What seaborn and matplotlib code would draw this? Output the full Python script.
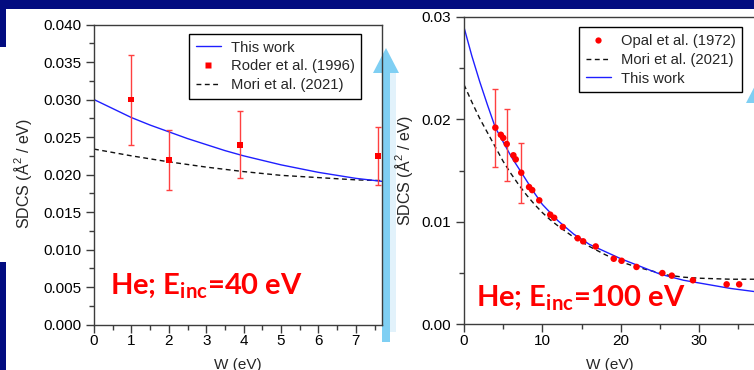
import matplotlib
matplotlib.use("Agg")
import matplotlib.pyplot as plt
from matplotlib.patches import Polygon
from matplotlib.lines import Line2D
from matplotlib.ticker import MultipleLocator, FormatStrFormatter
import numpy as np
import seaborn as sns

# ---------------- He, E_inc = 40 eV ----------------
w40_calc = [0, 0.5, 1, 1.5, 2, 2.5, 3, 3.5, 4, 4.5, 5, 5.5, 6, 6.5, 7, 7.7]
sdcs40_calc = [0.0300, 0.0288, 0.0276, 0.0266, 0.0257, 0.0248, 0.0240, 0.0232,
               0.0225, 0.0219, 0.0213, 0.0208, 0.0203, 0.0199, 0.0195, 0.0191]

w40_mori = [0, 1, 2, 3, 4, 5, 6, 7, 7.7]
sdcs40_mori = [0.0234, 0.0225, 0.0217, 0.0210, 0.0204, 0.0199, 0.0196, 0.0193, 0.0192]

w40_roder = [1.0, 2.0, 3.9, 7.6]
sdcs40_roder = [0.0300, 0.0220, 0.0240, 0.0225]
roder_low = [0.0240, 0.0180, 0.0195, 0.0186]
roder_high = [0.0360, 0.0260, 0.0285, 0.0263]

# ---------------- He, E_inc = 100 eV ----------------
w100_calc = [0, 1, 2, 3, 4, 5, 6, 7, 8, 9, 10, 11, 12, 14, 16, 18, 20, 22,
             25, 28, 31, 34, 37, 40]
sdcs100_calc = [0.0290, 0.0262, 0.0237, 0.0214, 0.0192, 0.0178, 0.0164, 0.0152,
                0.0140, 0.0128, 0.0117, 0.0109, 0.0101, 0.0088, 0.0078, 0.0071,
                0.0064, 0.0058, 0.0049, 0.0043, 0.0039, 0.0035, 0.0032, 0.0030]

w100_mori = [0, 1, 2, 3, 4, 5, 6, 7, 8, 9, 10, 11, 12, 14, 16, 18, 20, 22,
             24, 26, 28, 30, 34, 40]
sdcs100_mori = [0.0234, 0.0217, 0.0201, 0.0187, 0.0173, 0.0159, 0.0147, 0.0136,
                0.0126, 0.0117, 0.0109, 0.0102, 0.0096, 0.0085, 0.0076, 0.0068,
                0.0061, 0.0056, 0.0052, 0.0048, 0.0046, 0.0045, 0.0044, 0.0044]

w100_opal = [4.0, 4.7, 5.0, 5.45, 6.3, 6.6, 7.3, 8.3, 8.7, 9.6, 11.0, 11.5,
             12.6, 14.5, 15.2, 16.8, 19.1, 20.1, 22.0, 25.3, 26.5, 29.2, 33.5, 35.1]
sdcs100_opal = [0.0192, 0.0185, 0.0182, 0.0176, 0.0165, 0.0161, 0.0148, 0.0134,
                0.0131, 0.0121, 0.0107, 0.0104, 0.0095, 0.0084, 0.0081, 0.0076,
                0.0064, 0.0062, 0.0056, 0.0050, 0.00475, 0.0043, 0.0039, 0.0039]
w100_opal_err = [4.0, 5.45, 7.3]
sdcs100_opal_err = [0.0192, 0.0176, 0.0148]
opal_low = [0.0154, 0.0140, 0.0118]
opal_high = [0.0230, 0.0210, 0.0177]

NAVY = "#020c80"
BLUE = "#1f1fff"
RED = "#ff0000"
ERR_RED = "#ff4040"
ARROW = "#7fcff3"
SPINE = "#3c3c3c"

sns.set_theme(style="ticks")
plt.rcParams["font.family"] = ["Liberation Sans", "DejaVu Sans"]
plt.rcParams["mathtext.default"] = "regular"

W, H = 754, 370
fig = plt.figure(figsize=(W / 100, H / 100), dpi=100)
fig.patch.set_facecolor(NAVY)


def fx(px):
    return px / W


def fy(py):
    return 1 - py / H


def poly(points, color, z):
    pts = [(fx(x), fy(y)) for x, y in points]
    fig.patches.append(Polygon(pts, closed=True, transform=fig.transFigure,
                               facecolor=color, edgecolor="none", zorder=z))


# white slide canvas
poly([(6, 9), (754, 9), (754, 370), (6, 370)], "white", -3)
poly([(0, 47), (6, 47), (6, 262), (0, 262)], "white", -3)
poly([(390, 73), (396, 73), (396, 332), (390, 332)], "#e2f2fb", -2)

# highlight arrows
poly([(382, 342), (390, 342), (390, 73), (399, 73), (386, 48), (373, 73), (382, 73)], ARROW, -1)
poly([(746, 103), (772, 103), (759, 78)], ARROW, -1)

TICK_FS = 11
LABEL_FS = 11.5


def style_axes(ax):
    ax.set_facecolor("none")
    for s in ax.spines.values():
        s.set_color(SPINE)
        s.set_linewidth(1.0)
    ax.tick_params(which="major", direction="out", length=6, width=1,
                   color=SPINE, labelsize=TICK_FS, labelcolor="black")
    ax.tick_params(which="minor", direction="out", length=3.5, width=1, color=SPINE)
    ax.tick_params(axis="x", which="major", pad=1)
    ax.tick_params(axis="y", which="major", pad=3)


dash = (0, (3.5, 2.5))

# ---------- left panel ----------
ax1 = fig.add_axes([fx(94), fy(324.7), fx(382) - fx(94), fy(24.5) - fy(324.7)])
sns.lineplot(x=w40_mori, y=sdcs40_mori, ax=ax1, color="#111111", lw=1.0,
             linestyle=dash, estimator=None, sort=False)
sns.lineplot(x=w40_calc, y=sdcs40_calc, ax=ax1, color=BLUE, lw=1.0,
             estimator=None, sort=False)
e40 = np.array(sdcs40_roder)
ax1.errorbar(w40_roder, e40,
             yerr=[e40 - np.array(roder_low), np.array(roder_high) - e40],
             fmt="none", ecolor=ERR_RED, elinewidth=1, capsize=2.2, capthick=1)
sns.scatterplot(x=w40_roder, y=sdcs40_roder, ax=ax1, marker="s", s=18,
                color=RED, edgecolor="none", zorder=5)
ax1.set_xlim(0, 7.7)
ax1.set_ylim(0, 0.040)
ax1.xaxis.set_major_locator(MultipleLocator(1))
ax1.xaxis.set_minor_locator(MultipleLocator(0.5))
ax1.yaxis.set_major_locator(MultipleLocator(0.005))
ax1.yaxis.set_minor_locator(MultipleLocator(0.0025))
ax1.yaxis.set_major_formatter(FormatStrFormatter("%.3f"))
ax1.xaxis.set_major_formatter(FormatStrFormatter("%d"))
style_axes(ax1)
ax1.set_xlabel("W (eV)", fontsize=TICK_FS)
ax1.set_ylabel("SDCS (Å$^2$ / eV)", fontsize=LABEL_FS)
ax1.xaxis.set_label_coords(0.5, -0.111)
ax1.yaxis.set_label_coords((34 - 94) / 288, 0.505)

h_calc = Line2D([], [], color=BLUE, lw=1.0)
h_mori = Line2D([], [], color="#111111", lw=1.0, linestyle=dash)
h_roder = Line2D([], [], ls="none", marker="s", markersize=4, color=RED, mec="none")
h_opal = Line2D([], [], ls="none", marker="o", markersize=4.5, color=RED, mec="none")

leg_kw = dict(loc="upper left", bbox_transform=fig.transFigure, borderaxespad=0,
              fancybox=False, framealpha=1, edgecolor="black", fontsize=10.6,
              borderpad=0.45, handlelength=1.7, handletextpad=0.7, labelspacing=0.33)
leg1 = ax1.legend([h_calc, h_roder, h_mori],
                  ["This work", "Roder et al. (1996)", "Mori et al. (2021)"],
                  bbox_to_anchor=(fx(189), fy(34)), **leg_kw)
leg1.get_frame().set_linewidth(1.0)

# ---------- right panel ----------
XMAX2 = 38
PX_PER_EV = 7.84
ax2 = fig.add_axes([fx(464), fy(324.3), fx(464 + XMAX2 * PX_PER_EV) - fx(464),
                    fy(17) - fy(324.3)])
sns.lineplot(x=w100_mori, y=sdcs100_mori, ax=ax2, color="#111111", lw=1.0,
             linestyle=dash, estimator=None, sort=False)
sns.lineplot(x=w100_calc, y=sdcs100_calc, ax=ax2, color=BLUE, lw=1.0,
             estimator=None, sort=False)
e100 = np.array(sdcs100_opal_err)
ax2.errorbar(w100_opal_err, e100,
             yerr=[e100 - np.array(opal_low), np.array(opal_high) - e100],
             fmt="none", ecolor=ERR_RED, elinewidth=1, capsize=2.2, capthick=1)
sns.scatterplot(x=w100_opal, y=sdcs100_opal, ax=ax2, marker="o", s=22,
                color=RED, edgecolor="none", zorder=5)
ax2.set_xlim(0, XMAX2)
ax2.set_ylim(0, 0.03)
ax2.xaxis.set_major_locator(MultipleLocator(10))
ax2.xaxis.set_minor_locator(MultipleLocator(5))
ax2.yaxis.set_major_locator(MultipleLocator(0.01))
ax2.yaxis.set_minor_locator(MultipleLocator(0.005))
ax2.yaxis.set_major_formatter(FormatStrFormatter("%.2f"))
ax2.xaxis.set_major_formatter(FormatStrFormatter("%d"))
style_axes(ax2)
ax2.set_xlabel("W (eV)", fontsize=TICK_FS)
ax2.set_ylabel("SDCS (Å$^2$ / eV)", fontsize=LABEL_FS)
ax2.xaxis.set_label_coords((610 - 464) / (XMAX2 * PX_PER_EV), -0.11)
ax2.yaxis.set_label_coords((415 - 464) / (XMAX2 * PX_PER_EV), 0.5)

leg2 = ax2.legend([h_opal, h_mori, h_calc],
                  ["Opal et al. (1972)", "Mori et al. (2021)", "This work"],
                  bbox_to_anchor=(fx(579), fy(27.3)), **leg_kw)
leg2.get_frame().set_linewidth(1.0)

# ---------- panel captions ----------
cap_kw = dict(color=RED, fontsize=21, fontweight="bold", family=["Lato", "DejaVu Sans"],
              ha="left", va="baseline", zorder=10)
fig.text(fx(110), fy(293), "He; E$_{inc}$=40 eV", **cap_kw)
fig.text(fx(476), fy(305), "He; E$_{inc}$=100 eV", **cap_kw)

fig.savefig("out.png", dpi=100, facecolor=fig.get_facecolor())
